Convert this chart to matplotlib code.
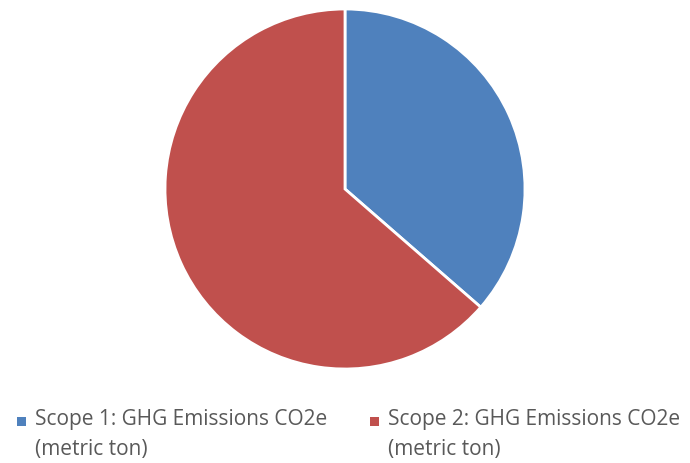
import matplotlib
matplotlib.use("Agg")
import matplotlib.pyplot as plt
from matplotlib.patches import Rectangle

labels = ["Scope 1: GHG Emissions CO2e\n(metric ton)", "Scope 2: GHG Emissions CO2e\n(metric ton)"]
values = [36.4, 63.6]
colors = ["#4F81BD", "#C0504D"]

fig = plt.figure(figsize=(6.9, 4.64), dpi=100)
ax = fig.add_axes([165/690, 1 - 370/464, 360/690, 360/464])
ax.pie(values, colors=colors, startangle=90, counterclock=False,
       wedgeprops=dict(edgecolor="white", linewidth=2))
ax.set_aspect("equal")
ax.set_xlim(-1, 1); ax.set_ylim(-1, 1)

legend_x = [17, 370]
for lx, lab, c in zip(legend_x, labels, colors):
    fig.patches.append(Rectangle((lx/690, 1 - 427/464), 9/690, 9/464,
                                 transform=fig.transFigure, facecolor=c, edgecolor="none"))
    fig.text((lx + 18)/690, 1 - 409/464, lab, ha="left", va="top",
             fontsize=15, color="#595959", family="Open Sans", linespacing=1.55)

fig.savefig("out.png", dpi=100)
